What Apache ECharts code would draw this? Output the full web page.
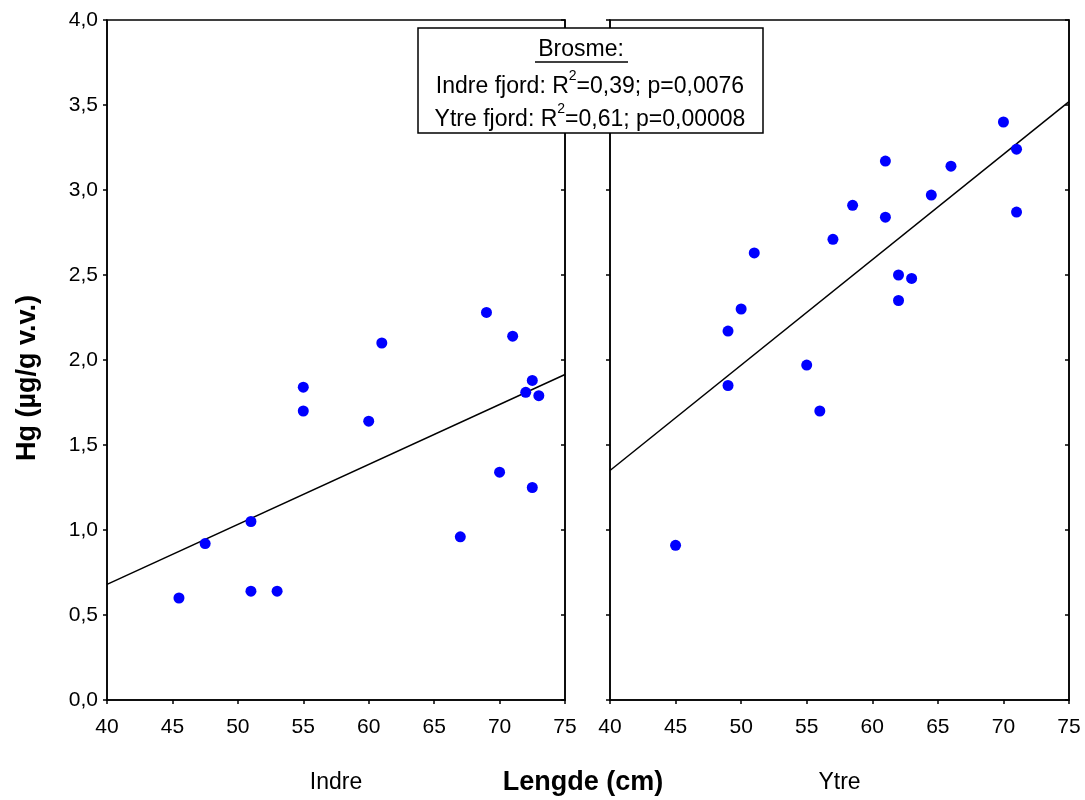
<!DOCTYPE html>
<html>
<head>
<meta charset="utf-8">
<script src="https://cdn.jsdelivr.net/npm/echarts@6/dist/echarts.min.js"></script>
<style>html,body{margin:0;padding:0;background:#fff;}#c{width:1085px;height:800px;}</style>
</head>
<body>
<div id="c"></div>
<script>
// Indre fjord (inner fjord)
const indreLength = [45.5, 47.5, 51, 51, 53, 55, 55, 60, 61, 67, 69, 70, 71, 72, 72.5, 72.5, 73];
const indreHg     = [0.60, 0.92, 1.05, 0.64, 0.64, 1.84, 1.70, 1.64, 2.10, 0.96, 2.28, 1.34, 2.14, 1.81, 1.88, 1.25, 1.79];
// Ytre fjord (outer fjord)
const ytreLength = [45, 49, 49, 50, 51, 55, 56, 57, 58.5, 61, 61, 62, 62, 63, 64.5, 66, 70, 71, 71];
const ytreHg     = [0.91, 1.85, 2.17, 2.30, 2.63, 1.97, 1.70, 2.71, 2.91, 3.17, 2.84, 2.50, 2.35, 2.48, 2.97, 3.14, 3.40, 3.24, 2.87];
// Regression lines (end points)
const fitLength = [40, 75];
const indreFit  = [0.68, 1.915];
const ytreFit   = [1.35, 3.52];
// Axis settings
const xMin = 40, xMax = 75, xStep = 5;
const yMin = 0, yMax = 4, yStep = 0.5;

const zip = (a, b) => a.map((v, i) => [v, b[i]]);
const FONT = 'Liberation Sans, Arial, sans-serif';
const fmtY = v => v.toFixed(1).replace('.', ',');

function xAxis(gi, name) {
  return {
    type: 'value', gridIndex: gi, min: xMin, max: xMax, interval: xStep,
    name: name, nameLocation: 'middle', nameGap: 71,
    nameTextStyle: {fontFamily: FONT, fontSize: 23, color: '#000'},
    axisLine: {show: true, onZero: false, lineStyle: {color: '#000', width: 1.5}},
    axisTick: {show: true, inside: false, length: 4, lineStyle: {color: '#000', width: 1.5}},
    axisLabel: {fontFamily: FONT, fontSize: 21, color: '#000', margin: 17},
    splitLine: {show: false}
  };
}
function yAxis(gi, pos, labels) {
  return {
    type: 'value', gridIndex: gi, position: pos, min: yMin, max: yMax, interval: yStep,
    axisLine: {show: true, onZero: false, lineStyle: {color: '#000', width: 1.5}},
    axisTick: {show: true, inside: pos === 'right', length: 4, lineStyle: {color: '#000', width: 1.5}},
    axisLabel: {show: labels, fontFamily: FONT, fontSize: 21, color: '#000', margin: 9, formatter: fmtY},
    splitLine: {show: false}
  };
}

const supRich = {
  a: {fontFamily: FONT, fontSize: 23, color: '#000', lineHeight: 30, verticalAlign: 'bottom'},
  s: {fontFamily: FONT, fontSize: 14, color: '#000', lineHeight: 30, verticalAlign: 'top', padding: [1, 0, 0, 0]}
};

const chart = echarts.init(document.getElementById('c'));
chart.setOption({
  backgroundColor: '#fff',
  animation: false,
  grid: [
    {left: 107, top: 20, width: 458, height: 680, show: true, borderColor: '#000', borderWidth: 1.5, backgroundColor: 'transparent'},
    {left: 610, top: 20, width: 459, height: 680, show: true, borderColor: '#000', borderWidth: 1.5, backgroundColor: 'transparent'}
  ],
  xAxis: [xAxis(0, 'Indre'), xAxis(1, 'Ytre')],
  yAxis: [
    yAxis(0, 'left', true),
    yAxis(0, 'right', false),
    yAxis(1, 'left', false),
    yAxis(1, 'right', false)
  ],
  series: [
    {type: 'line', xAxisIndex: 0, yAxisIndex: 0, data: zip(fitLength, indreFit), symbol: 'none',
     lineStyle: {color: '#000', width: 1.5}, z: 2},
    {type: 'line', xAxisIndex: 1, yAxisIndex: 2, data: zip(fitLength, ytreFit), symbol: 'none',
     lineStyle: {color: '#000', width: 1.5}, z: 2},
    {type: 'scatter', xAxisIndex: 0, yAxisIndex: 0, data: zip(indreLength, indreHg), symbol: 'circle',
     symbolSize: 11, itemStyle: {color: '#0000ff', opacity: 1}, z: 3},
    {type: 'scatter', xAxisIndex: 1, yAxisIndex: 2, data: zip(ytreLength, ytreHg), symbol: 'circle',
     symbolSize: 11, itemStyle: {color: '#0000ff', opacity: 1}, z: 3}
  ],
  graphic: [
    {type: 'text', x: 28, y: 378, rotation: Math.PI / 2, zlevel: 1,
     style: {text: 'Hg (µg/g v.v.)', font: 'bold 27px ' + FONT, fill: '#000', align: 'center', verticalAlign: 'middle'}},
    {type: 'text', x: 583, y: 783, zlevel: 1,
     style: {text: 'Lengde (cm)', font: 'bold 27px ' + FONT, fill: '#000', align: 'center', verticalAlign: 'middle'}},
    {type: 'group', zlevel: 1, children: [
      {type: 'rect', z: 100, shape: {x: 418, y: 28, width: 345, height: 105},
       style: {fill: '#fff', stroke: '#000', lineWidth: 1.5}},
      {type: 'text', z: 101, x: 581, y: 50,
       style: {text: 'Brosme:', font: '23px ' + FONT, fill: '#000', align: 'center', verticalAlign: 'middle'}},
      {type: 'line', z: 101, shape: {x1: 535, y1: 62, x2: 628, y2: 62}, style: {stroke: '#000', lineWidth: 1.5}},
      {type: 'text', z: 101, x: 590, y: 83,
       style: {text: '{a|Indre fjord: R}{s|2}{a|=0,39; p=0,0076}', align: 'center', verticalAlign: 'middle', rich: supRich}},
      {type: 'text', z: 101, x: 590, y: 116,
       style: {text: '{a|Ytre fjord: R}{s|2}{a|=0,61; p=0,00008}', align: 'center', verticalAlign: 'middle', rich: supRich}}
    ]}
  ]
});
</script>
</body>
</html>
